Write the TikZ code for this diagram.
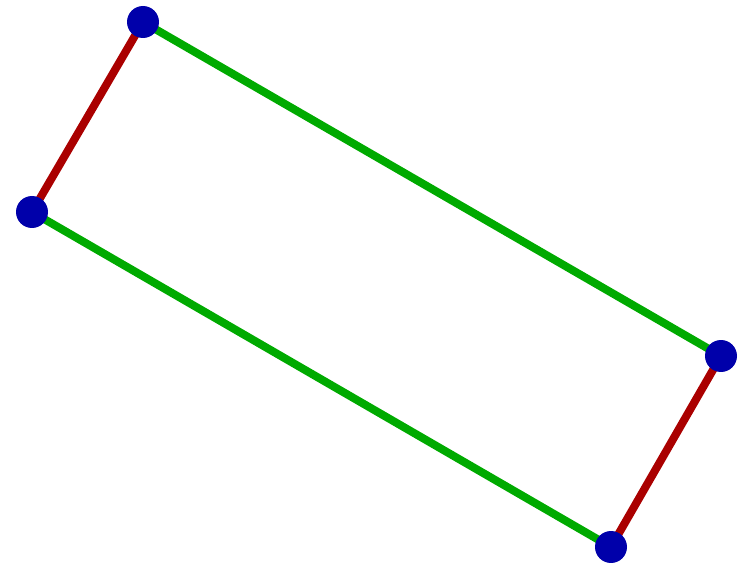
\documentclass[tikz,border=0pt]{standalone}
\usepackage{tikz}
\definecolor{edgegreen}{RGB}{0,170,0}
\definecolor{edgered}{RGB}{170,0,0}
\definecolor{vertblue}{RGB}{0,0,170}

\begin{document}
\begin{tikzpicture}[x=0.02cm,y=0.02cm,
  vert/.style={circle,fill=vertblue,inner sep=0pt,minimum size=0.64cm},
  longside/.style={draw=edgegreen,line width=0.16cm},
  shortside/.style={draw=edgered,line width=0.16cm}]
\useasboundingbox (0,0) rectangle (748,565);
\coordinate (top) at (143,543);
\coordinate (left) at (32,353);
\coordinate (right) at (721,209);
\coordinate (bottom) at (611,18);
% sides
\draw[longside] (top) -- (right);
\draw[longside] (left) -- (bottom);
\draw[shortside] (top) -- (left);
\draw[shortside] (right) -- (bottom);
% corners
\node[vert] (vtop) at (top) {};
\node[vert] (vleft) at (left) {};
\node[vert] (vright) at (right) {};
\node[vert] (vbottom) at (bottom) {};
\end{tikzpicture}
\end{document}
